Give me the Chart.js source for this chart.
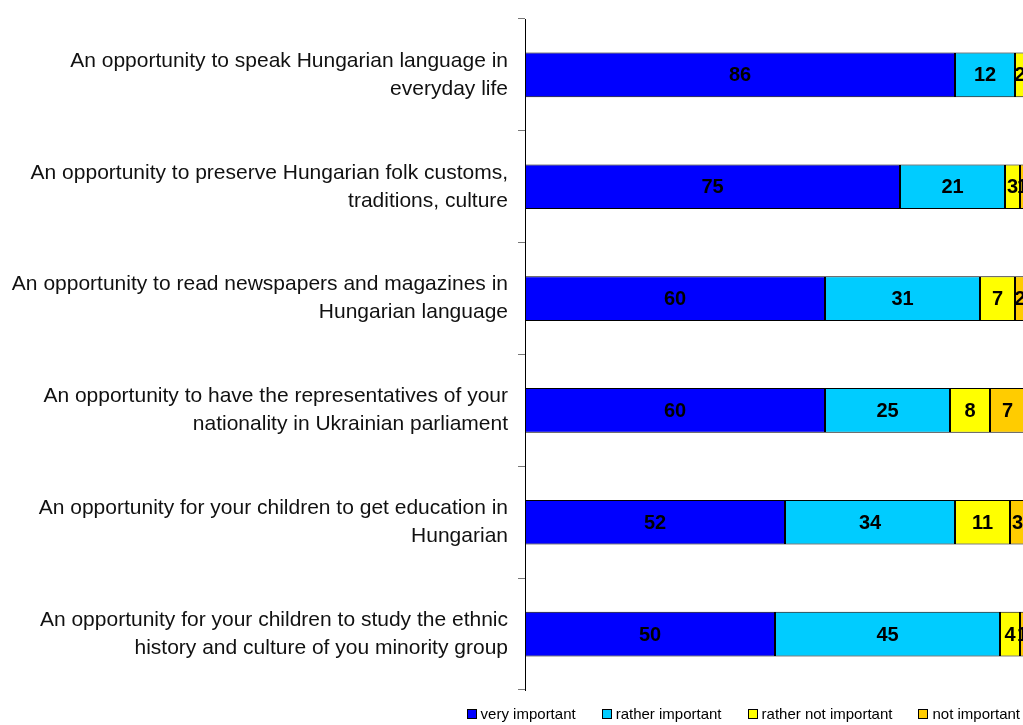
<!DOCTYPE html>
<html lang="en">
<head>
    <meta charset="UTF-8">
    <title>Importance of opportunities</title>
    <style>
        html, body { margin: 0; padding: 0; background: #fff; overflow: hidden; }
        #wrap { position: relative; width: 1030px; height: 725px; }
        #legend {
            position: absolute; right: 10px; top: 705px;
            display: flex; align-items: center;
            font: 15px 'Liberation Sans', Arial, sans-serif; color: #000;
        }
        #legend .item { display: flex; align-items: center; margin-left: 26px; }
        #legend .item:first-child { margin-left: 0; }
        #legend .box { width: 8px; height: 8px; border: 1px solid #000; margin-right: 4px; }
    </style>
</head>
<body>
    <div id="wrap">
        <canvas id="myChart"></canvas>
        <div id="legend"></div>
    </div>

    <script src="https://cdn.jsdelivr.net/npm/chart.js@4.4.1/dist/chart.umd.min.js"></script>
    <script type="text/javascript">
        // Categories (two lines each) and answer shares in percent
        const categories = [
            ['An opportunity to speak Hungarian language in', 'everyday life'],
            ['An opportunity to preserve Hungarian folk customs,', 'traditions, culture'],
            ['An opportunity to read newspapers and magazines in', 'Hungarian language'],
            ['An opportunity to have the representatives of your', 'nationality in Ukrainian parliament'],
            ['An opportunity for your children to get education in', 'Hungarian'],
            ['An opportunity for your children to study the ethnic', 'history and culture of you minority group']
        ];
        const veryImportant = [86, 75, 60, 60, 52, 50];
        const ratherImportant = [12, 21, 31, 25, 34, 45];
        const ratherNotImportant = [2, 3, 7, 8, 11, 4];
        const notImportant = [0, 1, 2, 7, 3, 1];

        const seriesNames = ['very important', 'rather important', 'rather not important', 'not important'];
        const seriesColors = ['#0000ff', '#00ccff', '#ffff00', '#ffcc00'];
        const seriesData = [veryImportant, ratherImportant, ratherNotImportant, notImportant];

        const font = "'Liberation Sans', Arial, sans-serif";

        // numbers in the middle of each segment
        const barValues = {
            id: 'barValues',
            afterDatasetsDraw(chart) {
                const ctx = chart.ctx;
                ctx.save();
                ctx.font = 'bold 20px ' + font;
                ctx.fillStyle = '#000';
                ctx.textAlign = 'center';
                ctx.textBaseline = 'middle';
                chart.data.datasets.forEach((ds, i) => {
                    chart.getDatasetMeta(i).data.forEach((bar, j) => {
                        const v = ds.data[j];
                        if (!v) return;
                        const p = bar.getProps(['x', 'y', 'base'], true);
                        ctx.fillText(v, (p.x + p.base) / 2, p.y + 1);
                    });
                });
                ctx.restore();
            }
        };

        const ctx = document.getElementById('myChart');
        const myChart = new Chart(ctx, {
            type: 'bar',
            data: {
                labels: categories,
                datasets: seriesData.map((d, i) => ({
                    label: seriesNames[i],
                    data: d,
                    backgroundColor: seriesColors[i],
                    borderColor: '#000',
                    borderWidth: 1,
                    borderSkipped: false,
                    barPercentage: 0.4,
                    categoryPercentage: 1
                }))
            },
            options: {
                indexAxis: 'y',
                responsive: true,
                maintainAspectRatio: false,
                animation: false,
                layout: { padding: { top: 19, right: 5, left: 0, bottom: 0 } },
                scales: {
                    x: {
                        stacked: true,
                        min: 0,
                        max: 100,
                        ticks: { display: false },
                        grid: { display: false },
                        border: { display: false },
                        afterFit(scale) { scale.height = 35; }
                    },
                    y: {
                        stacked: true,
                        grid: {
                            offset: true,
                            drawOnChartArea: false,
                            tickLength: 7,
                            tickColor: '#777'
                        },
                        border: { color: '#000', width: 1 },
                        ticks: {
                            color: '#111',
                            padding: 10,
                            font: { family: font, size: 21, lineHeight: 1.33 }
                        },
                        afterFit(scale) {
                            scale.width = 525;
                            scale.paddingTop = 0;
                            scale.paddingBottom = 0;
                        }
                    }
                },
                plugins: {
                    legend: { display: false },
                    tooltip: { enabled: false }
                }
            },
            plugins: [barValues]
        });

        // legend row under the plot
        const legendEl = document.getElementById('legend');
        seriesNames.forEach((name, i) => {
            const item = document.createElement('div');
            item.className = 'item';
            item.innerHTML = '<span class="box" style="background:' + seriesColors[i] + '"></span>' + name;
            legendEl.appendChild(item);
        });
    </script>
</body>
</html>
